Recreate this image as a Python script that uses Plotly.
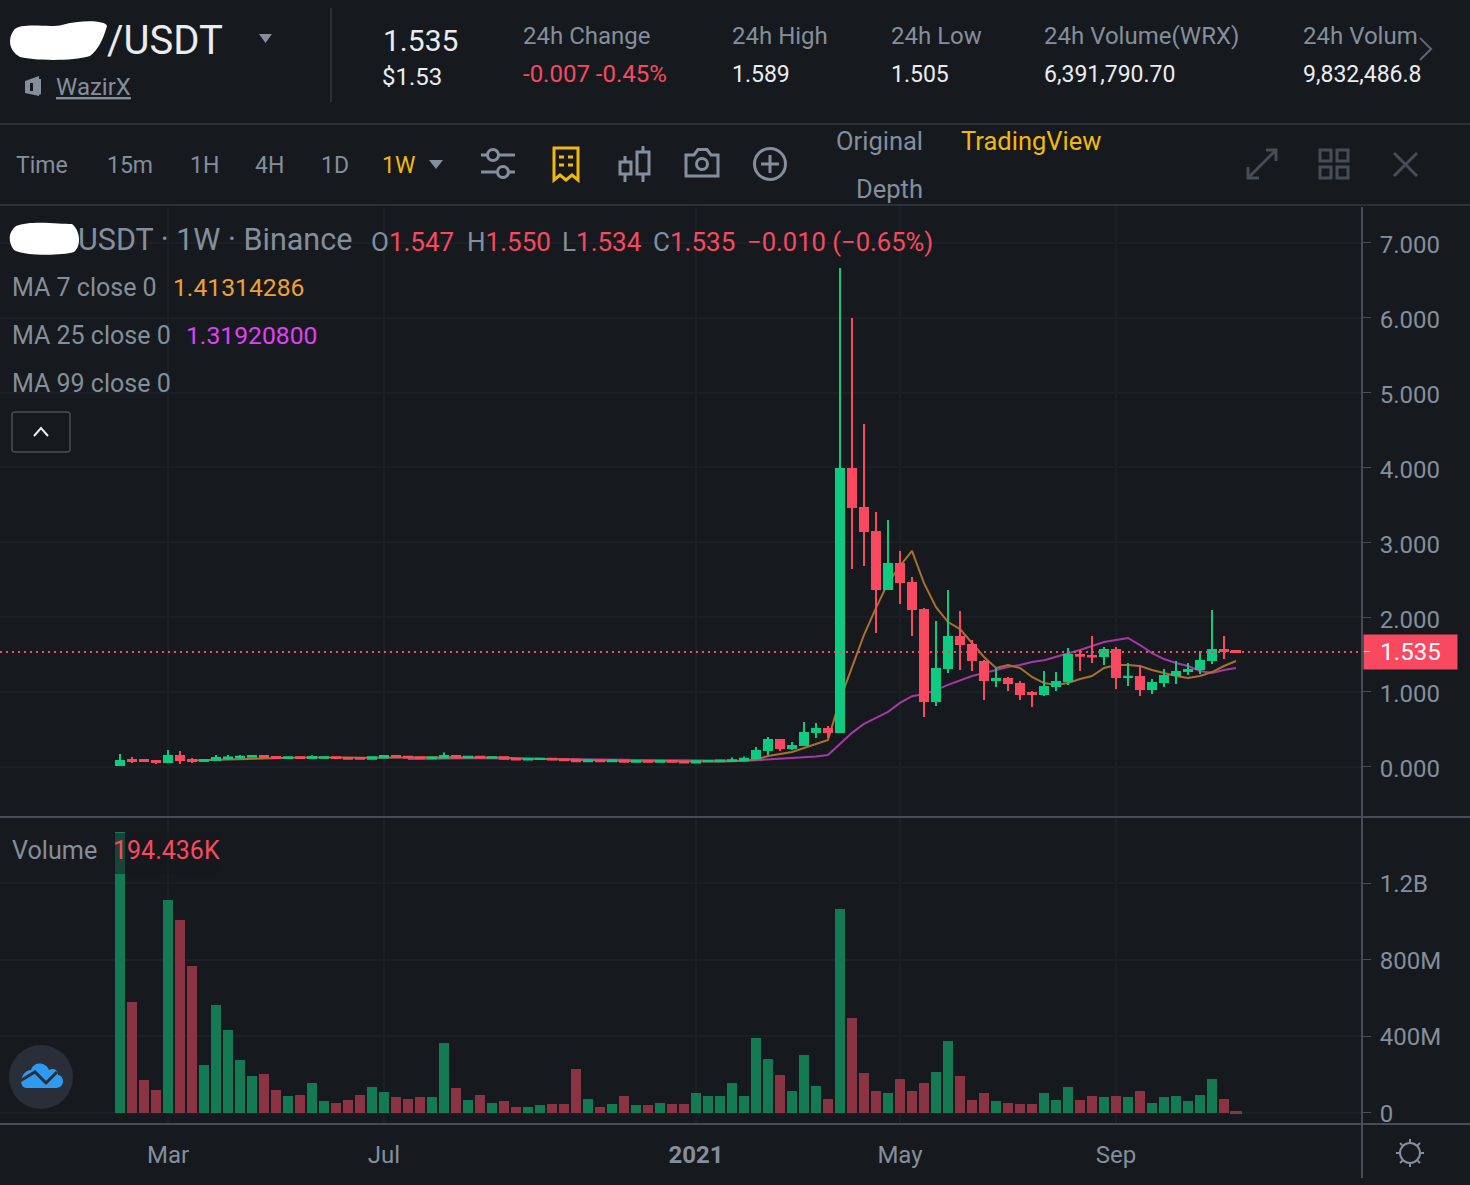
import pandas as pd
import plotly.graph_objects as go

# Weekly candles, Monday open
first_week = "2020-02-03"
opens = [.024,.091,.091,.078,.064,.144,.091,.078,.091,.118,.124,.134,.144,.131,.119,.129,.119,.122,.129,.119,
         .119,.109,.124,.144,.134,.124,.114,.124,.144,.129,.134,.124,.129,.109,.099,.104,.109,.099,.094,.074,
         .084,.074,.084,.069,.079,.069,.079,.069,.059,.074,.074,.079,.089,.118,.224,.358,.251,.291,.465,.505,
         .465,3.978,3.457,3.136,2.375,2.709,2.455,2.095,.879,1.320,1.734,1.627,1.400,1.159,1.173,1.106,.986,.973,1.079,1.146,
         1.493,1.480,1.480,1.560,1.200,1.200,1.039,1.133,1.226,1.280,1.306,1.427,1.560,1.547]
highs = [.171,.131,.104,.078,.224,.211,.118,.091,.158,.158,.158,.158,.158,.138,.136,.134,.153,.134,.134,.123,
         .123,.132,.148,.150,.138,.128,.128,.193,.148,.140,.140,.136,.133,.113,.113,.116,.113,.103,.098,.090,
         .088,.093,.088,.086,.083,.086,.083,.074,.086,.088,.093,.124,.139,.265,.398,.358,.331,.598,.585,.545,
         6.663,5.995,4.579,3.404,3.297,2.883,2.535,2.121,1.948,2.362,2.081,1.694,1.427,1.320,1.200,1.146,1.013,1.280,1.266,1.587,
         1.560,1.747,1.600,1.600,1.387,1.360,1.173,1.306,1.413,1.387,1.547,2.095,1.747,1.550]
lows = [.024,.051,.064,.037,.064,.037,.051,.078,.091,.091,.104,.124,.118,.113,.116,.116,.116,.118,.116,.096,
        .103,.106,.120,.128,.118,.108,.108,.118,.113,.123,.118,.118,.103,.093,.093,.098,.093,.083,.068,.068,
        .068,.068,.063,.063,.063,.063,.063,.053,.053,.063,.068,.073,.074,.118,.158,.211,.224,.291,.385,.385,
        .465,2.642,2.682,1.787,2.375,2.175,1.747,.665,.812,1.253,1.293,1.280,.892,1.066,1.013,.892,.799,.946,1.013,1.093,
        1.280,1.387,1.360,1.039,1.079,.946,.973,1.066,1.106,1.226,1.240,1.373,1.440,1.534]
closes = [.078,.078,.078,.064,.144,.091,.078,.091,.118,.124,.134,.144,.131,.118,.129,.119,.132,.129,.119,.109,
          .109,.129,.144,.134,.124,.114,.124,.144,.129,.134,.124,.129,.109,.099,.104,.109,.099,.089,.074,.084,
          .074,.084,.069,.079,.069,.079,.069,.059,.074,.079,.084,.089,.109,.211,.358,.251,.278,.452,.505,.465,
          3.978,3.470,3.150,2.375,2.709,2.469,2.108,.879,1.306,1.734,1.640,1.427,1.159,1.173,1.119,.973,.973,1.066,1.133,1.493,
          1.484,1.474,1.560,1.200,1.204,1.039,1.119,1.213,1.266,1.293,1.413,1.560,1.547,1.535]

# Moving averages as shown on the chart; None where the window has not filled yet
ma7 = [None]*6 + [.084,.089,.094,.099,.106,.112,.118,.122,.124,.124,.124,.126,.126,.124,.120,.119,.122,.124,.126,.129,
       .129,.131,.134,.134,.132,.130,.124,.116,.111,.108,.104,.099,.092,.087,.084,.080,.079,.076,.074,.073,
       .072,.070,.069,.070,.072,.076,.081,.099,.144,.171,.198,.251,.304,.358,.898,1.343,1.764,2.124,2.454,2.684,
       2.884,2.454,2.134,1.934,1.841,1.654,1.467,1.320,1.360,1.320,1.200,1.119,1.093,1.119,1.173,1.213,1.320,1.360,1.360,1.347,
       1.293,1.253,1.213,1.186,1.213,1.266,1.347,1.41314286]
ma25 = [None]*24 + [.104,.108,.112,.114,.116,.116,.115,.114,.113,.112,.110,.108,.106,.104,.102,.100,.098,.096,.093,.090,
        .088,.086,.083,.081,.079,.078,.077,.078,.081,.089,.099,.107,.118,.129,.139,.158,.304,.454,.574,.654,.734,
        .854,.944,.974,1.024,1.094,1.159,1.214,1.254,1.294,1.334,1.360,1.400,1.424,1.467,1.507,1.560,1.614,1.667,1.694,1.721,
        1.627,1.520,1.440,1.387,1.347,1.280,1.253,1.293,1.319208]

# Volume in millions, newest bar as stated by the legend
volume_m = [1467,576,168,120,1111,1006,765,246,561,430,272,189,199,120,84,94,152,58,52,63,
            89,131,105,79,73,79,79,362,126,68,94,52,58,31,31,37,42,47,225,73,
            31,47,84,37,37,52,42,47,100,84,84,152,84,388,278,194,115,299,141,73,
            1064,493,204,110,100,173,110,152,210,372,189,68,100,58,52,47,42,100,63,136,
            68,84,79,84,79,110,52,79,84,58,89,173,73,0.194436]

price_ticks = [0, 1, 2, 3, 4, 5, 6, 7]
volume_ticks = [0, 400, 800, 1200]
volume_tick_labels = ["0", "400M", "800M", "1.2B"]
time_ticks = ["2020-03-02", "2020-07-06", "2021-01-04", "2021-05-03", "2021-09-06"]
time_tick_labels = ["Mar", "Jul", "<b>2021</b>", "May", "Sep"]
last_price = 1.535
last_price_label = "1.535"

BG = "#161a1e"
GRID = "#1c2026"
EDGE = "#2b3139"
EDGE_HI = "#474d57"
UP = "#0ecb81"
DOWN = "#f84960"
UP_DIM = "#137a54"
DOWN_DIM = "#893343"
MUTED = "#848e9c"
BRIGHT = "#eaecef"
GOLD = "#f0b90b"
FONT = "Roboto"
W, H = 1470, 1185


def fx(x):
    return x / W


def fy(y):
    return 1 - y / H


weeks = pd.date_range(first_week, periods=len(closes), freq="7D")
week = pd.Timedelta(days=7)
x_range = [weeks[0] - 10 * week, weeks[0] + 103.5 * week]

fig = go.Figure()
fig.add_trace(go.Scatter(x=weeks, y=ma25, mode="lines", yaxis="y", xaxis="x",
                         line=dict(color="#a837a8", width=2), hoverinfo="skip", showlegend=False))
fig.add_trace(go.Scatter(x=weeks, y=ma7, mode="lines", yaxis="y", xaxis="x",
                         line=dict(color="#a9702e", width=2), hoverinfo="skip", showlegend=False))
# Candles live on an overlaid axis so they paint above the averages
fig.add_trace(go.Candlestick(x=weeks, open=opens, high=highs, low=lows, close=closes,
                             xaxis="x", yaxis="y3", whiskerwidth=0, showlegend=False,
                             increasing=dict(line=dict(color=UP, width=2), fillcolor=UP),
                             decreasing=dict(line=dict(color=DOWN, width=2), fillcolor=DOWN)))
bar_colors = [UP_DIM if c >= o else DOWN_DIM for o, c in zip(opens, closes)]
fig.add_trace(go.Bar(x=weeks, y=volume_m, xaxis="x", yaxis="y2", showlegend=False,
                     width=[week.total_seconds() * 1000 * 10 / 12] * len(weeks),
                     marker=dict(color=bar_colors, line=dict(color=bar_colors,
                                 width=[0] * (len(weeks) - 1) + [2]))))

shapes = []


def line(x0, y0, x1, y1, color=EDGE, width=2):
    shapes.append(dict(type="line", xref="paper", yref="paper", x0=fx(x0), y0=fy(y0), x1=fx(x1), y1=fy(y1),
                       line=dict(color=color, width=width), layer="above"))


def rect(x0, y0, x1, y1, fill="rgba(0,0,0,0)", color=None, width=0, opacity=1):
    shapes.append(dict(type="rect", xref="paper", yref="paper", x0=fx(x0), y0=fy(y0), x1=fx(x1), y1=fy(y1),
                       fillcolor=fill, opacity=opacity, layer="above",
                       line=dict(color=color or "rgba(0,0,0,0)", width=width)))


def circle(cx, cy, r, fill="rgba(0,0,0,0)", color=None, width=0):
    shapes.append(dict(type="circle", xref="paper", yref="paper", x0=fx(cx - r), y0=fy(cy - r),
                       x1=fx(cx + r), y1=fy(cy + r), fillcolor=fill, layer="above",
                       line=dict(color=color or "rgba(0,0,0,0)", width=width)))


def path(spec, fill="rgba(0,0,0,0)", color=None, width=0):
    out, is_x = [], True
    for tok in spec.split():
        if tok.isalpha():
            out.append(tok)
            is_x = True
        else:
            out.append(f"{fx(float(tok)):.5f}" if is_x else f"{fy(float(tok)):.5f}")
            is_x = not is_x
    shapes.append(dict(type="path", xref="paper", yref="paper", path=" ".join(out), fillcolor=fill, layer="above",
                       line=dict(color=color or "rgba(0,0,0,0)", width=width)))


# Panel frame
line(0, 124, W, 124)
line(0, 205, W, 205)
line(331, 8, 331, 102)
line(1362, 207, 1362, 1178, EDGE_HI)
line(0, 817, W, 817, EDGE_HI)
line(0, 1124, W, 1124, EDGE_HI)

# Current price guide
shapes.append(dict(type="line", xref="paper", yref="y", x0=0, x1=fx(1362), y0=last_price, y1=last_price,
                   line=dict(color=DOWN, width=2, dash="2px,4px"), layer="above"))

# Masked symbol names
path("M 14 30 C 20 22 50 28 62 25 C 80 20 105 20 107 26 C 103 40 98 50 90 56 C 70 62 30 60 20 57 C 8 50 8 38 14 30 Z", fill="#ffffff")
path("M 16 226 C 30 220 60 224 72 224 C 80 230 82 246 74 252 C 60 256 25 256 14 250 C 8 242 8 232 16 226 Z", fill="#ffffff")

# Header glyphs
path("M 259 34 L 272 34 L 265.5 43 Z", fill=MUTED)
path("M 25 81 L 39 76 L 39 96 L 25 93 Z", fill=MUTED)
path("M 39 79 L 41 79 L 41 94 L 39 95 Z", fill=MUTED)
rect(30, 83, 33, 91, fill=BG)
path("M 1420 38 L 1431 49 L 1420 60", color="#5e6673", width=2)

# Toolbar glyphs
path("M 429 160 L 443 160 L 436 169 Z", fill=MUTED)
line(481, 155, 515, 155, MUTED, 3)
line(481, 172, 515, 172, MUTED, 3)
circle(493, 155, 5.5, fill=BG, color=MUTED, width=3)
circle(503, 172, 5.5, fill=BG, color=MUTED, width=3)
path("M 554 148 L 578 148 L 578 180 L 572 175 L 566 180 L 560 175 L 554 180 Z", color=GOLD, width=3)
for dash_y in (157, 165):
    line(559, dash_y, 564, dash_y, GOLD, 3)
    line(568, dash_y, 573, dash_y, GOLD, 3)
line(625, 156, 625, 182, MUTED, 3)
rect(620, 162, 631, 174, fill=BG, color=MUTED, width=3)
line(643, 146, 643, 182, MUTED, 3)
rect(637, 152, 649, 174, fill=BG, color=MUTED, width=3)
path("M 686 155 L 694 155 L 698 149.5 L 707 149.5 L 711 155 L 718 155 L 718 176 L 686 176 Z", color=MUTED, width=3)
circle(702, 164, 5.5, color=MUTED, width=3)
circle(770, 164, 15.5, color=MUTED, width=3)
line(770, 155, 770, 173, MUTED, 3)
line(761, 164, 779, 164, MUTED, 3)
path("M 1248 167 L 1248 178 L 1259 178", color=EDGE_HI, width=3)
path("M 1266 150 L 1276 150 L 1276 161", color=EDGE_HI, width=3)
line(1249, 177, 1275, 151, EDGE_HI, 3)
for sx in (1320, 1337):
    for sy in (150, 167):
        rect(sx, sy, sx + 11, sy + 11, color=EDGE_HI, width=3)
line(1394, 153, 1417, 176, EDGE_HI, 3)
line(1417, 153, 1394, 176, EDGE_HI, 3)

# Collapse control
path("M 15 412 L 67 412 C 69 412 70 413 70 415 L 70 449 C 70 451 69 452 67 452 L 15 452 C 13 452 12 451 12 449 "
     "L 12 415 C 12 413 13 412 15 412 Z", color=EDGE_HI, width=1.5)
path("M 34 436 L 41 428 L 48 436", color=BRIGHT, width=2)

# Dimmed backing behind the volume readout
rect(114, 833, 220, 874, fill=BG, opacity=0.55)

# Watermark badge
circle(41, 1077, 32, fill="#2a2e39")
path("M 26 1088 L 56 1088 C 65 1088 65 1076 58 1075 C 58 1069 52 1068 49 1070 C 46 1062 34 1061 31 1070 C 22 1070 17 1086 26 1088 Z", fill="#2f9bf0")
path("M 20 1081 L 35 1072 L 46 1083 L 57 1072", color="#2a2e39", width=3)

# Settings gear
circle(1410, 1153, 10, color=MUTED, width=2)
for dx, dy in [(0, -14), (0, 14), (-14, 0), (14, 0), (10, 10), (-10, 10), (10, -10), (-10, -10)]:
    line(1410 + dx * 0.75, 1153 + dy * 0.75, 1410 + dx, 1153 + dy, MUTED, 2)

annotations = []


def text(x, y, s, size=24, color=MUTED, anchor="left"):
    annotations.append(dict(xref="paper", yref="paper", x=fx(x), y=fy(y), text=s, showarrow=False,
                            xanchor=anchor, yanchor="middle", align=anchor, borderpad=0,
                            font=dict(family=FONT, size=size, color=color)))


def span(s, color):
    return f'<span style="color:{color}">{s}</span>'


text(106, 40, "/USDT", 40, BRIGHT)
text(55, 87, "<u>WazirX</u>", 24)
text(382, 40, "1.535", 30, BRIGHT)
text(381, 77.5, "$1.53", 24, BRIGHT)
text(522, 36, "24h Change", 24)
text(522, 74, "-0.007 -0.45%", 24, DOWN)
text(731, 36, "24h High", 24)
text(731, 74, "1.589", 23, BRIGHT)
text(890, 36, "24h Low", 24)
text(890, 74, "1.505", 23, BRIGHT)
text(1043, 36, "24h Volume(WRX)", 24)
text(1043, 74, "6,391,790.70", 23, BRIGHT)
# The ticker strip runs off the right edge
text(1302, 36, "24h Volum", 24)
text(1302, 74, "9,832,486.8", 23, BRIGHT)

for tx, label in [(15, "Time"), (106, "15m"), (189, "1H"), (254, "4H"), (320, "1D")]:
    text(tx, 166, label, 23)
text(381, 166, "1W", 23, GOLD)
text(835, 141, "Original", 25.5)
text(960, 141, "TradingView", 25.5, GOLD)
text(855, 189, "Depth", 25.5)

text(77, 240, "USDT · 1W · Binance", 30.5)
for tx, name, val in [(370, "O", "1.547"), (466, "H", "1.550"), (561, "L", "1.534"), (652, "C", "1.535")]:
    text(tx, 242, name + span(val, DOWN), 26)
text(746, 242, "−0.010 (−0.65%)", 25.6, DOWN)
text(11, 287, "MA 7 close 0", 25)
text(172, 287, "1.41314286", 24.7, "#f0a030")
text(11, 335, "MA 25 close 0", 25)
text(185, 335, "1.31920800", 24.7, "#e040fb")
text(11, 383, "MA 99 close 0", 25)
text(11, 850, "Volume", 25.2)
text(112, 850, "194.436K", 25, DOWN)

# Current price tag on the price scale
annotations.append(dict(xref="paper", yref="y", x=fx(1363), y=last_price, xanchor="left", yanchor="middle",
                        width=93, height=34, text=last_price_label, showarrow=False, bgcolor=DOWN, borderpad=0,
                        font=dict(family=FONT, size=24, color="#ffffff")))
annotations.append(dict(xref="paper", yref="y", x=fx(1367), y=last_price, xanchor="center", yanchor="middle",
                        text="–", showarrow=False, font=dict(family=FONT, size=12, color="#ffffff")))

tick_font = dict(family=FONT, size=24, color=MUTED)
price_axis = dict(domain=[fy(816), fy(207)], range=[-0.657, 7.479], anchor="x", side="right",
                  tickmode="array", tickvals=price_ticks, tickformat=".3f", tickfont=tick_font,
                  showgrid=True, gridcolor=GRID, gridwidth=2, zeroline=False, showline=False,
                  ticks="outside", ticklen=8, tickcolor=EDGE_HI, tickwidth=1, ticklabelstandoff=4,
                  ticklabelshift=2, automargin=False)

fig.update_layout(
    width=W, height=H, margin=dict(l=0, r=0, t=0, b=0, pad=0, autoexpand=False), autosize=False,
    paper_bgcolor=BG, plot_bgcolor=BG, bargap=0, boxmode="overlay", boxgap=0.33, boxgroupgap=0,
    font=dict(family=FONT, color=MUTED), showlegend=False, hovermode=False,
    xaxis=dict(domain=[0, fx(1362)], range=x_range, type="date", anchor="y2", automargin=False,
               rangeslider=dict(visible=False), tickmode="array", tickvals=time_ticks, ticktext=time_tick_labels,
               tickfont=tick_font, showgrid=True, gridcolor=GRID, gridwidth=2, zeroline=False, showline=False,
               ticks="outside", ticklen=6, tickcolor=BG, tickangle=0, ticklabelstandoff=3),
    yaxis=price_axis,
    yaxis3=dict(overlaying="y", range=[-0.657, 7.479], anchor="x", side="right", visible=False),
    yaxis2=dict(domain=[fy(1124), fy(818)], range=[-60.1, 1540], anchor="x", side="right", automargin=False,
                tickmode="array", tickvals=volume_ticks, ticktext=volume_tick_labels, tickfont=tick_font,
                showgrid=True, gridcolor=GRID, gridwidth=2, zeroline=False, showline=False,
                ticks="outside", ticklen=8, tickcolor=EDGE_HI, tickwidth=1, ticklabelstandoff=4,
                ticklabelshift=1),
    shapes=shapes, annotations=annotations,
)

fig.write_html("out.html", config=dict(displayModeBar=False))
